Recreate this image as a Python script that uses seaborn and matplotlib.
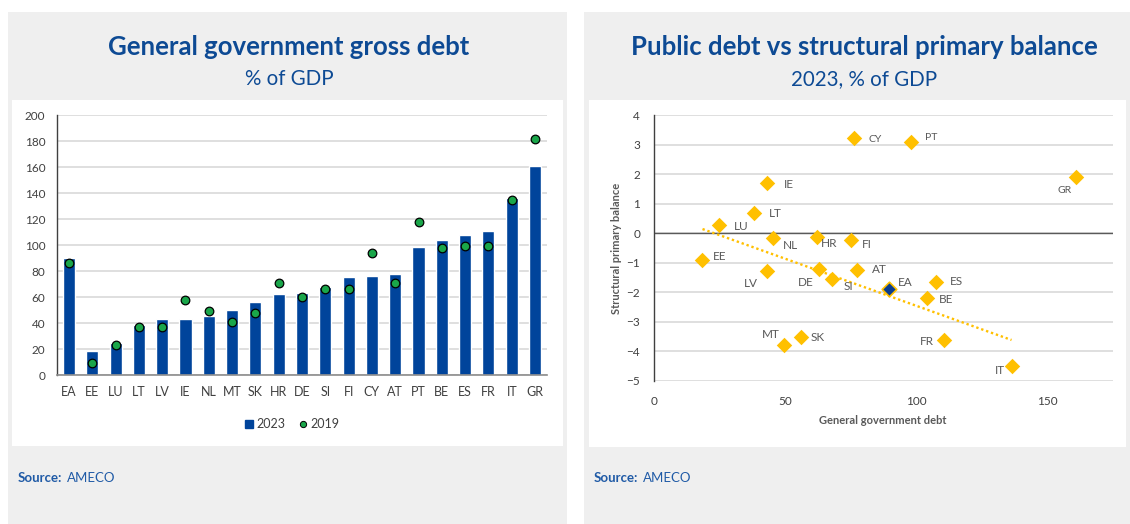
import numpy as np
import pandas as pd
import matplotlib
matplotlib.use("Agg")
import matplotlib.pyplot as plt
from matplotlib.patches import Rectangle
from matplotlib.lines import Line2D
import seaborn as sns

# ---- data -------------------------------------------------------------
countries = ["EA", "EE", "LU", "LT", "LV", "IE", "NL", "MT", "SK", "HR", "DE",
             "SI", "FI", "CY", "AT", "PT", "BE", "ES", "FR", "IT", "GR"]
debt_2023 = [89.7, 18.5, 24.9, 38.2, 43.3, 43.3, 45.4, 49.7, 55.9, 62.1, 62.8,
             67.9, 75.1, 76.4, 77.4, 98.2, 104.1, 107.4, 110.5, 136.4, 161.0]
debt_2019 = [86.4, 9.0, 23.3, 36.7, 36.7, 57.4, 49.2, 40.8, 47.9, 70.8, 60.3,
             65.9, 65.9, 93.6, 70.8, 117.4, 97.7, 99.0, 99.0, 134.9, 181.3]
primary_balance = [-1.91, -0.92, 0.26, 0.67, -1.28, 1.68, -0.18, -3.80, -3.51,
                   -0.12, -1.20, -1.56, -0.24, 3.23, -1.25, 3.10, -2.19, -1.65,
                   -3.63, -4.51, 1.91]
# countries left out of the fitted trend line
trend_excluded = ["EA", "CY", "PT", "GR"]

df = pd.DataFrame({"country": countries, "debt_2023": debt_2023,
                   "debt_2019": debt_2019, "balance": primary_balance})

# ---- style ------------------------------------------------------------
sns.set_style("white")
plt.rcParams["font.family"] = ["Lato", "DejaVu Sans"]

BLUE = "#00449B"
GREEN = "#1AA64A"
YELLOW = "#FFC000"
NAVY = "#0A3D8F"
TITLE = "#0D4A94"
PANEL = "#EFEFEF"
GRID = "#D9D9D9"
TXT = "#404040"
LBL = "#595959"

W, H = 1130, 524
fig = plt.figure(figsize=(W / 100, H / 100), dpi=100)
fig.patch.set_facecolor("white")


def box(x0, y0, x1, y1):
    """Figure-fraction rectangle from pixel corners (top-left origin)."""
    return [x0 / W, 1 - y1 / H, (x1 - x0) / W, (y1 - y0) / H]


def add_rect(x0, y0, x1, y1, color, z):
    l, b, w, h = box(x0, y0, x1, y1)
    fig.add_artist(Rectangle((l, b), w, h, transform=fig.transFigure,
                             facecolor=color, edgecolor="none", zorder=z))


# panel backgrounds
add_rect(8, 12, 567, 524, PANEL, -3)
add_rect(584, 12, 1140, 524, PANEL, -3)
add_rect(12, 100, 563, 446, "white", -2)
add_rect(589, 100, 1126, 447, "white", -2)

# titles
fig.text(289 / W, 1 - 47 / H, "General government gross debt", ha="center",
         va="center", fontsize=18.5, fontweight="bold", color=TITLE)
fig.text(289 / W, 1 - 79 / H, "% of GDP", ha="center", va="center",
         fontsize=14.8, color=TITLE)
fig.text(864 / W, 1 - 47 / H, "Public debt vs structural primary balance",
         ha="center", va="center", fontsize=18.5, fontweight="bold", color=TITLE)
fig.text(864 / W, 1 - 79 / H, "2023, % of GDP", ha="center", va="center",
         fontsize=14.8, color=TITLE)

# sources
for x0 in (18, 594):
    fig.text(x0 / W, 1 - 478 / H, "Source:", ha="left", va="center",
             fontsize=9.5, fontweight="bold", color="#1F5AA6")
    fig.text((x0 + 49) / W, 1 - 478 / H, "AMECO", ha="left", va="center",
             fontsize=9.5, color="#1F5AA6")

# ---- left: bar chart --------------------------------------------------
ax1 = fig.add_axes(box(57.3, 115, 546.7, 375))
ax1.set_facecolor("none")
sns.barplot(data=df, x="country", y="debt_2023", color=BLUE, saturation=1,
            width=0.52, ax=ax1, zorder=2)
sns.stripplot(data=df, x="country", y="debt_2019", jitter=False, color=GREEN,
              size=6.2, edgecolor="black", linewidth=0.9, ax=ax1, zorder=3)
ax1.set_xlim(-0.5, len(countries) - 0.5)
ax1.set_ylim(0, 200)
ax1.set_yticks(np.arange(0, 201, 20))
ax1.yaxis.grid(True, color=GRID, lw=1.2)
ax1.set_axisbelow(True)
ax1.set_xlabel("")
ax1.set_ylabel("")
for s in ("top", "right"):
    ax1.spines[s].set_visible(False)
ax1.spines["left"].set_color("#404040")
ax1.spines["left"].set_linewidth(1.0)
ax1.spines["bottom"].set_color("#8C8C8C")
ax1.spines["bottom"].set_linewidth(1.2)
ax1.tick_params(axis="y", length=0, pad=8.5, labelsize=8.5, labelcolor=TXT)
ax1.tick_params(axis="x", length=0, pad=8, labelsize=9, labelcolor=TXT)

handles = [Line2D([], [], marker="s", linestyle="", color=BLUE, markersize=6),
           Line2D([], [], marker="o", linestyle="", markerfacecolor=GREEN,
                  markeredgecolor="black", markeredgewidth=0.7, markersize=4.5)]
fig.legend(handles, ["2023", "2019"], loc="center",
           bbox_to_anchor=(291 / W, 1 - 424 / H), ncol=2, frameon=False,
           fontsize=9, handletextpad=0.1, columnspacing=0.9, handlelength=1.0,
           labelcolor=TXT)

# ---- right: scatter ---------------------------------------------------
ax2 = fig.add_axes(box(654, 115, 1112.7, 380.7))
ax2.set_facecolor("none")

fit = df[~df["country"].isin(trend_excluded)]
slope, intercept = np.polyfit(fit["debt_2023"], fit["balance"], 1)
xs = np.array([fit["debt_2023"].min(), fit["debt_2023"].max()])
ax2.plot(xs, intercept + slope * xs, linestyle=(0, (1, 1.2)), color=YELLOW,
         lw=1.7, zorder=2)

others = df[df["country"] != "EA"]
ea = df[df["country"] == "EA"]
sns.scatterplot(data=others, x="debt_2023", y="balance", marker="D", s=62,
                color=YELLOW, linewidth=0, ax=ax2, zorder=3)
sns.scatterplot(data=ea, x="debt_2023", y="balance", marker="D", s=55,
                color=NAVY, edgecolor=YELLOW, linewidth=1.2, ax=ax2, zorder=4)

# label offsets in pixels (dx right, dy down)
offsets = {"EA": (16, -7), "EE": (17, -4), "LU": (22, 1), "LT": (21, 0),
           "LV": (-17, 13), "IE": (21, 1), "NL": (17, 7), "MT": (-13, -11),
           "SK": (17, 1), "HR": (12, 7), "DE": (-13, 14), "SI": (16, 7),
           "FI": (16, 4), "CY": (21, 2), "AT": (23, 0), "PT": (20, -4),
           "BE": (19, 2), "ES": (21, 0), "FR": (-17, 1), "IT": (-12, 4),
           "GR": (-11, 14)}
small = {"CY", "PT", "GR"}
for c, x, y in zip(countries, debt_2023, primary_balance):
    dx, dy = offsets[c]
    ax2.annotate(c, (x, y), xytext=(dx * 0.72, -dy * 0.72),
                 textcoords="offset points", ha="center", va="center",
                 fontsize=7.5 if c in small else 8.5, color=LBL)

ax2.set_xlim(0, 175)
ax2.set_ylim(-5, 4)
ax2.set_xticks([0, 50, 100, 150])
ax2.set_yticks(np.arange(-5, 5, 1))
ax2.yaxis.grid(True, color=GRID, lw=1.2)
ax2.set_axisbelow(True)
ax2.axhline(0, color="#595959", lw=1.0, zorder=1.5)
ax2.set_xlabel("")
ax2.set_ylabel("")
for s in ("top", "right", "bottom"):
    ax2.spines[s].set_visible(False)
ax2.spines["left"].set_color("#404040")
ax2.spines["left"].set_linewidth(1.0)
ax2.tick_params(axis="y", length=0, pad=10, labelsize=8.5, labelcolor=TXT)
ax2.tick_params(axis="x", length=0, pad=11, labelsize=8.5, labelcolor=TXT)

fig.text(617 / W, 1 - 248 / H, "Structural primary balance", rotation=90,
         ha="center", va="center", fontsize=8, fontweight="bold", color=LBL)
fig.text(883 / W, 1 - 420 / H, "General government debt", ha="center",
         va="center", fontsize=8, fontweight="bold", color=LBL)

fig.savefig("out.png", dpi=100)
